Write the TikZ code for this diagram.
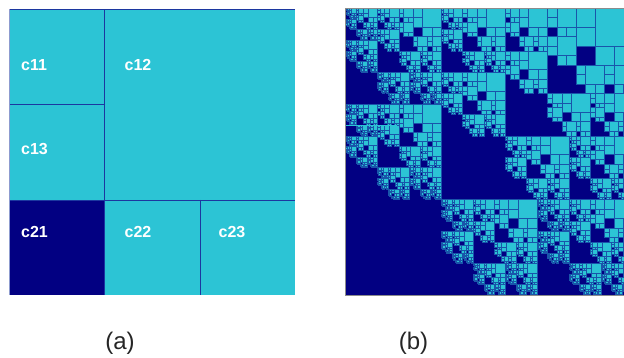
\documentclass[tikz,border=0pt]{standalone}
\usepackage{fontspec}
\setmainfont{Liberation Sans}
\definecolor{qcyan}{RGB}{44,196,213}
\definecolor{qnavy}{RGB}{2,0,130}
\definecolor{qline}{RGB}{28,55,160}
\definecolor{qleafline}{RGB}{25,85,170}
\definecolor{qframe}{RGB}{140,140,140}
\tikzset{
  leafA/.style={fill=qcyan, draw=qleafline, line width=0.55pt},
  cellA/.style={fill=qcyan},
  cellD/.style={fill=qnavy},
  gridline/.style={draw=qline, line width=0.9pt},
  clabel/.style={text=white, font=\bfseries\fontsize{16}{19}\selectfont, inner sep=0pt, anchor=base west},
  sublabel/.style={text=black!85, font=\fontsize{24}{28}\selectfont, inner sep=0pt, anchor=base}
}
\newcommand\qtA[4]{%
  \ifnum#4=0\relax
    \path[leafA] (#1,#2) rectangle ++(#3,-#3);%
  \else
    \begingroup
    \pgfmathsetmacro\qa{#3/3}%
    \pgfmathsetmacro\qb{2*#3/3}%
    \pgfmathsetmacro\qxa{#1+\qa}%
    \pgfmathsetmacro\qxb{#1+\qb}%
    \pgfmathsetmacro\qya{#2-\qa}%
    \pgfmathsetmacro\qyb{#2-\qb}%
    \pgfmathtruncatemacro\qd{#4-1}%
    \edef\qnext{%
      \noexpand\qtA{#1}{#2}{\qa}{\qd}%
      \noexpand\qtA{#1}{\qya}{\qa}{\qd}%
      \noexpand\qtA{\qxa}{#2}{\qb}{\qd}%
      \noexpand\qtA{\qxa}{\qyb}{\qa}{\qd}%
      \noexpand\qtA{\qxb}{\qyb}{\qa}{\qd}}%
    \qnext
    \endgroup
  \fi}
\begin{document}
\begin{tikzpicture}[x=1pt,y=1pt]
\useasboundingbox[fill=white] (0,0) rectangle (624,358);
% ---------- (a) ----------
\path[cellA] (9.3,348.7) rectangle (295.3,63);
\path[cellD] (9.3,158) rectangle (104.7,63);
\draw[gridline] (104.7,348.7) -- (104.7,63);
\draw[gridline] (9.3,253.7) -- (104.7,253.7);
\draw[gridline] (9.3,158) -- (295.3,158);
\draw[gridline] (200.3,158) -- (200.3,63);
\draw[gridline] (9.3,348.7) -- (295.3,348.7);
\draw[draw=qline!50, line width=0.6pt] (9.3,348.7) -- (9.3,63);
\node[clabel] (c11) at (21,287) {c11};
\node[clabel] (c12) at (124.5,287) {c12};
\node[clabel] (c13) at (21,203.7) {c13};
\node[clabel] (c21) at (21,120.7) {c21};
\node[clabel] (c22) at (124.5,120.7) {c22};
\node[clabel] (c23) at (218.5,120.7) {c23};
% ---------- (b) ----------
\begin{scope}
\clip (0,0) rectangle (624,358);
\path[fill=qnavy] (345.7,349.7) rectangle (632.7,62.7);
\qtA{345.7}{349.7}{287}{5}
\draw[qcyan, line width=0.6pt] (345.7,233) -- (397,233);
\draw[qframe, line width=0.8pt] (632.7,349.7) -- (345.7,349.7) -- (345.7,62.7) -- (632.7,62.7);
\end{scope}
% ---------- captions ----------
\node[sublabel] (capa) at (120,8) {(a)};
\node[sublabel] (capb) at (413.5,8) {(b)};
\end{tikzpicture}
\end{document}
